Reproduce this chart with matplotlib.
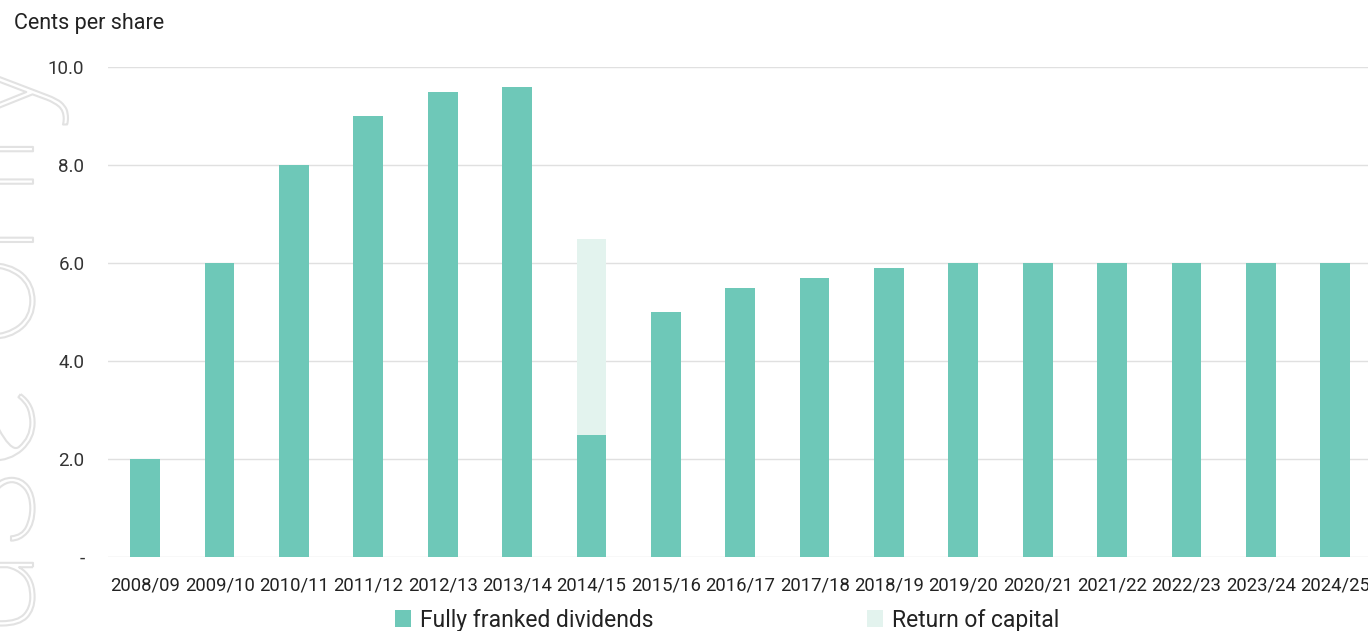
import matplotlib.pyplot as plt
import matplotlib.patheffects as pe
import numpy as np

plt.rcParams['font.family'] = ['Roboto', 'DejaVu Sans']

years = ['2008/09', '2009/10', '2010/11', '2011/12', '2012/13', '2013/14', '2014/15',
         '2015/16', '2016/17', '2017/18', '2018/19', '2019/20', '2020/21', '2021/22',
         '2022/23', '2023/24', '2024/25']
franked = [2.0, 6.0, 8.0, 9.0, 9.5, 9.6, 2.5, 5.0, 5.5, 5.7, 5.9, 6.0, 6.0, 6.0, 6.0, 6.0, 6.0]
capital = [0, 0, 0, 0, 0, 0, 4.0, 0, 0, 0, 0, 0, 0, 0, 0, 0, 0]
yticks = [0, 2, 4, 6, 8, 10]
ylabels = ['-', '2.0', '4.0', '6.0', '8.0', '10.0']

teal = '#6ec8b8'
light = '#e3f3ee'

fig = plt.figure(figsize=(13.68, 6.31), dpi=100)
ax = fig.add_axes([108 / 1368, 74 / 631, 1 - 108 / 1368, 490 / 631])
ax.patch.set_alpha(0)

x = np.arange(len(years))
ax.bar(x, franked, 0.4, color=teal, label='Fully franked dividends', zorder=3)
ax.bar(x, capital, 0.4, bottom=franked, color=light, label='Return of capital', zorder=3)

ax.set_xlim(-0.5, 16.44)
ax.set_ylim(0, 10)
ax.set_yticks(yticks)
ax.set_yticklabels(ylabels, fontsize=13.5, color='#333333')
ax.set_xticks(x)
ax.set_xticklabels(years, fontsize=13.3, color='#222222')
ax.tick_params(axis='both', length=0)
ax.tick_params(axis='y', pad=17)
ax.tick_params(axis='x', pad=14)
ax.grid(True, axis='y', color='#e0e0e0', linewidth=1)
ax.set_axisbelow(True)
for s in ax.spines.values():
    s.set_visible(False)

fig.text(14 / 1368, 1 - 24 / 631, 'Cents per share', fontsize=15.5, color='#222222', va='center')

ax.legend(loc='center', bbox_to_anchor=(727 / 1368, 11 / 631), bbox_transform=fig.transFigure,
          ncol=2, frameon=False, fontsize=16.5, handlelength=0.7, handleheight=0.7,
          handletextpad=0.4, columnspacing=9.3, labelcolor='#222222')

# faint outlined watermark at the left edge, behind everything
fig.text(33 / 1368, -8 / 631, 'use only', rotation=90, rotation_mode='anchor',
         ha='left', va='baseline', fontsize=118, fontweight='light', color=(1, 1, 1, 0),
         zorder=-5, path_effects=[pe.withStroke(linewidth=1.5, foreground='#e2e2e2')])

fig.savefig('out.png', dpi=100)
